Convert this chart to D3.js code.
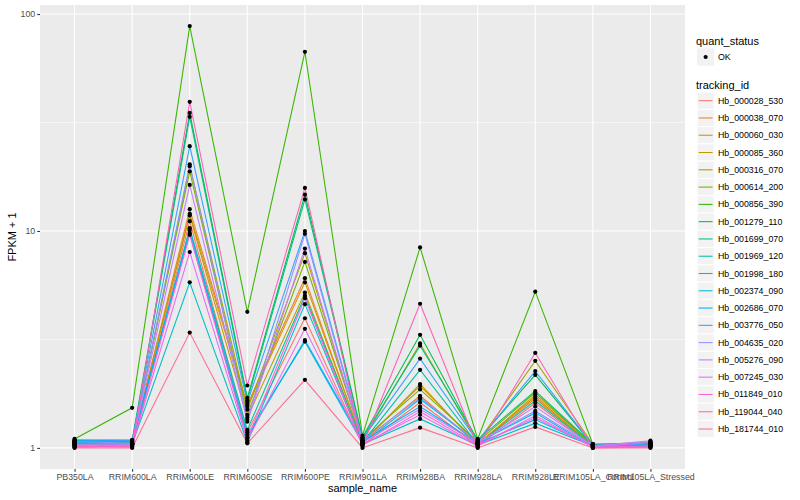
<!DOCTYPE html>
<html>
<head>
<meta charset="utf-8">
<script src="https://cdn.jsdelivr.net/npm/d3@7"></script>
<style>
  body { margin: 0; background: #fff; }
  svg { font-family: "Liberation Sans", Arial, sans-serif; }
</style>
</head>
<body>
<svg id="chart" width="800" height="500"></svg>
<script>
// sample columns on the x axis
const sampleNames = ['PB350LA', 'RRIM600LA', 'RRIM600LE', 'RRIM600SE', 'RRIM600PE', 'RRIM901LA',
    'RRIM928BA', 'RRIM928LA', 'RRIM928LE', 'RRIM105LA_Control', 'RRIM105LA_Stressed'];

const trackingIds = ['Hb_000028_530', 'Hb_000038_070', 'Hb_000060_030', 'Hb_000085_360', 'Hb_000316_070',
    'Hb_000614_200', 'Hb_000856_390', 'Hb_001279_110', 'Hb_001699_070', 'Hb_001969_120',
    'Hb_001998_180', 'Hb_002374_090', 'Hb_002686_070', 'Hb_003776_050', 'Hb_004635_020',
    'Hb_005276_090', 'Hb_007245_030', 'Hb_011849_010', 'Hb_119044_040', 'Hb_181744_010'];

// ggplot default hue palette, 20 levels
const trackingColors = ['#F8766D', '#EA8331', '#D89000', '#C09B00', '#A3A500', '#7CAE00', '#39B600',
    '#00BB4E', '#00BF7D', '#00C1A3', '#00BFC4', '#00BAE0', '#00B0F6', '#35A2FF', '#9590FF',
    '#C77CFF', '#E76BF3', '#FA62DB', '#FF62BC', '#FF6C91'];

// FPKM + 1, one row per tracking id, in sampleNames order
const fpkmPlus1 = [
    [1.01, 1.02, 11.1, 1.18, 3.96, 1.03, 1.62, 1.02, 1.61, 1.01, 1.01],
    [1.04, 1.05, 12.6, 1.58, 6.06, 1.06, 1.74, 1.04, 1.69, 1.02, 1.02],
    [1.05, 1.04, 12.0, 1.55, 5.80, 1.07, 1.93, 1.05, 1.72, 1.02, 1.03],
    [1.03, 1.06, 11.8, 1.38, 5.20, 1.05, 1.97, 1.03, 1.76, 1.03, 1.04],
    [1.06, 1.05, 19.9, 1.50, 7.90, 1.08, 3.03, 1.06, 2.52, 1.04, 1.06],
    [1.07, 1.07, 18.8, 1.42, 7.20, 1.09, 1.86, 1.07, 1.80, 1.03, 1.05],
    [1.10, 1.53, 88.0, 4.24, 67.0, 1.14, 8.40, 1.10, 5.25, 1.04, 1.03],
    [1.08, 1.08, 35.0, 1.70, 14.7, 1.12, 3.32, 1.08, 2.17, 1.03, 1.04],
    [1.07, 1.06, 33.6, 1.66, 14.0, 1.11, 2.96, 1.09, 1.83, 1.04, 1.05],
    [1.05, 1.03, 10.3, 1.21, 5.03, 1.06, 2.29, 1.04, 1.65, 1.02, 1.02],
    [1.03, 1.04, 5.80, 1.06, 4.60, 1.04, 1.36, 1.03, 1.30, 1.02, 1.03],
    [1.06, 1.07, 10.1, 1.15, 3.09, 1.05, 1.68, 1.06, 1.45, 1.01, 1.02],
    [1.08, 1.09, 9.80, 1.12, 3.14, 1.07, 1.55, 1.05, 1.35, 1.02, 1.03],
    [1.09, 1.08, 24.6, 1.62, 10.0, 1.10, 2.58, 1.07, 2.26, 1.03, 1.04],
    [1.07, 1.05, 20.3, 1.35, 9.70, 1.08, 1.71, 1.06, 1.48, 1.02, 1.07],
    [1.04, 1.04, 16.3, 1.32, 8.30, 1.06, 1.51, 1.05, 1.55, 1.02, 1.08],
    [1.02, 1.03, 8.00, 1.08, 3.54, 1.04, 1.42, 1.02, 1.41, 1.01, 1.06],
    [1.01, 1.02, 9.60, 1.10, 4.90, 1.03, 1.47, 1.03, 1.38, 1.01, 1.02],
    [1.02, 1.01, 39.4, 1.94, 15.8, 1.02, 4.62, 1.01, 2.74, 1.00, 1.01],
    [1.00, 1.00, 3.40, 1.05, 2.06, 1.00, 1.24, 1.00, 1.25, 1.00, 1.00]
];

const yTicks = [1, 10, 100];
const yMinor = [Math.sqrt(10), Math.sqrt(1000)];

const svg = d3.select('#chart');
const panel = { left: 40, right: 685, top: 5, bottom: 469 };

// ggplot discrete scale: 0.6 units padding each side
const x = d3.scalePoint()
    .domain(sampleNames)
    .range([panel.left, panel.right])
    .padding(0.6);

const allValues = fpkmPlus1.flat();
const logMin = Math.log10(d3.min(allValues));
const logMax = Math.log10(d3.max(allValues));
const pad = (logMax - logMin) * 0.05;
const y = d3.scaleLog()
    .domain([Math.pow(10, logMin - pad), Math.pow(10, logMax + pad)])
    .range([panel.bottom, panel.top]);

// panel background + grid
svg.append('rect')
    .attr('x', panel.left).attr('y', panel.top)
    .attr('width', panel.right - panel.left).attr('height', panel.bottom - panel.top)
    .attr('fill', '#EBEBEB');

const grid = svg.append('g');
grid.selectAll('line.minor')
    .data(yMinor)
    .enter().append('line')
    .attr('x1', panel.left).attr('x2', panel.right)
    .attr('y1', d => y(d)).attr('y2', d => y(d))
    .attr('stroke', '#fff').attr('stroke-width', 0.53);
grid.selectAll('line.majy')
    .data(yTicks)
    .enter().append('line')
    .attr('x1', panel.left).attr('x2', panel.right)
    .attr('y1', d => y(d)).attr('y2', d => y(d))
    .attr('stroke', '#fff').attr('stroke-width', 1.07);
grid.selectAll('line.majx')
    .data(sampleNames)
    .enter().append('line')
    .attr('x1', d => x(d)).attr('x2', d => x(d))
    .attr('y1', panel.top).attr('y2', panel.bottom)
    .attr('stroke', '#fff').attr('stroke-width', 1.07);

// axes
const xAxis = svg.append('g')
    .attr('transform', `translate(0,${panel.bottom})`)
    .call(d3.axisBottom(x).tickSize(2.75).tickPadding(2));
const yAxis = svg.append('g')
    .attr('transform', `translate(${panel.left},0)`)
    .call(d3.axisLeft(y).tickValues(yTicks).tickFormat(d3.format('d')).tickSize(2.75).tickPadding(2));

[xAxis, yAxis].forEach(ax => {
    ax.select('.domain').remove();
    ax.selectAll('.tick line').attr('stroke', '#333333').attr('stroke-width', 1.07);
    ax.selectAll('.tick text')
        .attr('fill', '#4D4D4D')
        .attr('font-size', '8.8px')
        .attr('font-family', '"Liberation Sans", Arial, sans-serif');
});

svg.append('text')
    .attr('x', (panel.left + panel.right) / 2).attr('y', 492)
    .attr('text-anchor', 'middle')
    .attr('font-size', '11px')
    .text('sample_name');

svg.append('text')
    .attr('transform', `translate(16,${(panel.top + panel.bottom) / 2}) rotate(-90)`)
    .attr('text-anchor', 'middle')
    .attr('font-size', '11px')
    .text('FPKM + 1');

// lines
const line = d3.line()
    .x((d, i) => x(sampleNames[i]))
    .y(d => y(d));

svg.append('g').selectAll('path')
    .data(fpkmPlus1)
    .enter().append('path')
    .attr('d', line)
    .attr('fill', 'none')
    .attr('stroke', (d, i) => trackingColors[i])
    .attr('stroke-width', 1.07);

// points
const points = fpkmPlus1.flatMap(row => row.map((v, i) => ({ sample: sampleNames[i], value: v })));
svg.append('g').selectAll('circle')
    .data(points)
    .enter().append('circle')
    .attr('cx', d => x(d.sample))
    .attr('cy', d => y(d.value))
    .attr('r', 2.1)
    .attr('fill', '#000');

// legends
const legend = svg.append('g').attr('transform', 'translate(696,0)');
const keySize = 17.28;

legend.append('text')
    .attr('x', 0).attr('y', 44.5)
    .attr('font-size', '11px')
    .text('quant_status');
legend.append('rect')
    .attr('x', 1).attr('y', 57 - keySize / 2)
    .attr('width', keySize).attr('height', keySize)
    .attr('fill', '#F2F2F2');
legend.append('circle')
    .attr('cx', 1 + keySize / 2).attr('cy', 57)
    .attr('r', 2.1).attr('fill', '#000');
legend.append('text')
    .attr('x', 22).attr('y', 60)
    .attr('font-size', '8.8px')
    .text('OK');

legend.append('text')
    .attr('x', 0).attr('y', 89)
    .attr('font-size', '11px')
    .text('tracking_id');

const keys = legend.selectAll('g.key')
    .data(trackingIds)
    .enter().append('g')
    .attr('class', 'key')
    .attr('transform', (d, i) => `translate(1,${100.7 + i * keySize})`);

keys.append('rect')
    .attr('x', 0).attr('y', -keySize / 2)
    .attr('width', keySize).attr('height', keySize)
    .attr('fill', '#F2F2F2')
    .attr('stroke', '#fff')
    .attr('stroke-width', 1);
keys.append('line')
    .attr('x1', 1.7).attr('x2', keySize - 1.7)
    .attr('y1', 0).attr('y2', 0)
    .attr('stroke', (d, i) => trackingColors[i])
    .attr('stroke-width', 1.07);
keys.append('text')
    .attr('x', 21).attr('y', 3)
    .attr('font-size', '8.8px')
    .text(d => d);
</script>
</body>
</html>
